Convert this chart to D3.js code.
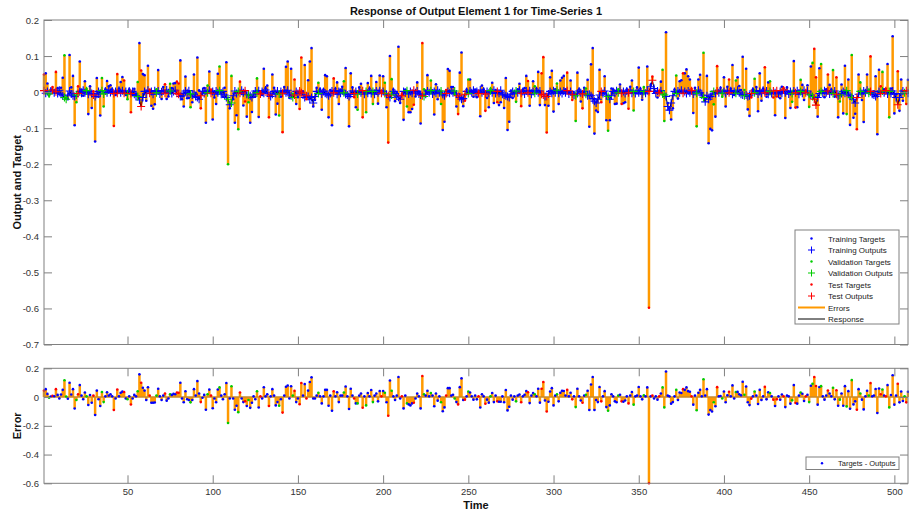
<!DOCTYPE html>
<html>
<head>
<meta charset="utf-8">
<script src="https://cdn.jsdelivr.net/npm/d3@7"></script>
<style>
  body { margin: 0; background: #fff; }
  text { font-family: "Liberation Sans", Arial, Helvetica, sans-serif; }
</style>
</head>
<body>
<div id="chart"></div>
<script>

// error (targets - outputs) for time steps 1..508
var errs = [
  0.045, 0.055, 0.022, -0.005, 0.004, 0.008, 0.006, 0.055, 0.015, -0.01, 0.018, 0.05, 0.117, 0.004, -0.012, 0.1, 0.018, 0.055, -0.08, -0.02,
  0.02, 0.083, 0.01, -0.015, 0.032, 0.005, -0.055, 0.014, -0.04, 0.01, -0.125, 0.045, -0.015, -0.062, 0.035, -0.035, 0.005, 0.033, 0.01, 0.02,
  0.005, -0.09, -0.01, 0.053, 0.005, 0.03, 0.038, 0.035, -0.01, -0.015, 0.005, -0.052, -0.01, 0.015, 0.005, 0.04, 0.158, 0.1, 0.065, 0.045,
  -0.02, 0.068, 0.01, -0.04, -0.04, -0.038, 0.01, 0.058, 0.005, -0.02, 0.01, 0.025, -0.025, -0.01, 0.02, 0.015, 0.022, 0.02, 0.032, 0.03,
  0.1, -0.01, -0.036, 0.04, -0.015, -0.02, -0.037, -0.02, 0.055, 0.01, 0.111, 0.025, -0.035, -0.005, 0.015, -0.088, 0.02, 0.052, 0.01, -0.078,
  -0.01, -0.036, 0.053, 0.067, 0.01, -0.015, 0.02, 0.098, -0.18, -0.01, 0.075, -0.01, -0.088, -0.06, -0.105, 0.032, -0.01, -0.035, -0.03, -0.062,
  -0.02, -0.075, -0.04, 0.005, -0.015, 0.04, -0.073, 0.005, -0.01, 0.068, 0.005, 0.02, -0.062, 0.005, 0.055, 0.01, -0.058, -0.035, -0.06, -0.015,
  -0.108, 0.01, 0.072, 0.08, -0.01, 0.075, 0.01, 0.043, -0.035, -0.01, -0.05, 0.098, 0.01, 0.09, -0.01, 0.045, 0.105, 0.137, -0.01, -0.01,
  0.01, 0.03, 0.005, -0.044, 0.005, 0.05, 0.05, -0.06, 0.01, -0.095, 0.04, 0.005, 0.033, -0.035, 0.01, 0.01, 0.032, 0.073, 0.005, -0.083,
  0.058, 0.01, -0.01, -0.044, -0.044, 0.01, 0.025, -0.074, 0.005, -0.058, 0.028, 0.005, 0.049, -0.035, 0.01, 0.025, -0.03, 0.042, 0.005, 0.042,
  0.03, -0.036, -0.13, 0.115, 0.044, 0.005, -0.021, 0.01, 0.14, -0.01, 0.005, -0.079, 0.01, -0.044, -0.051, -0.058, -0.044, -0.04, -0.01, 0.024,
  0.005, -0.079, 0.146, 0.02, 0.01, 0.044, 0.005, 0.028, 0.01, -0.064, 0.025, -0.025, 0.005, -0.036, -0.099, -0.072, 0.01, 0.062, 0.062, 0.01,
  0.016, -0.01, -0.035, -0.051, 0.069, 0.13, -0.021, -0.018, 0.005, 0.039, 0.032, 0.005, -0.018, 0.01, -0.016, 0.005, -0.073, 0.02, 0.005, -0.047,
  -0.018, -0.039, 0.005, 0.028, -0.035, 0.01, -0.03, -0.033, -0.033, 0.005, -0.036, 0.049, -0.093, -0.067, 0.01, -0.018, 0.005, -0.03, 0.01, 0.018,
  -0.036, 0.005, 0.016, 0.042, 0.033, -0.042, 0.01, 0.028, 0.019, 0.005, 0.058, -0.039, 0.058, 0.105, -0.024, -0.1, -0.033, 0.039, 0.062, -0.058,
  0.01, 0.019, -0.03, 0.03, 0.044, 0.042, 0.01, 0.05, 0.005, 0.03, -0.016, 0.005, -0.07, 0.058, 0.005, -0.024, -0.04, 0.01, 0.016, 0.044,
  -0.09, 0.087, 0.14, -0.09, -0.021, -0.035, 0.07, -0.03, 0.005, 0.041, -0.07, -0.095, -0.058, 0.02, 0.005, -0.03, -0.036, 0.01, 0.016, -0.03,
  -0.033, -0.024, 0.005, -0.044, 0.01, 0.035, -0.053, 0.005, 0.01, 0.07, 0.005, -0.016, 0.012, 0.005, 0.067, -0.6, 0.005, 0.01, -0.01, 0.005,
  -0.018, 0.005, 0.025, 0.067, -0.072, 0.178, 0.01, 0.005, -0.046, -0.035, 0.005, 0.05, -0.021, 0.032, 0.028, 0.055, 0.05, 0.067, 0.041, 0.037,
  0.005, -0.053, 0.01, -0.092, 0.03, 0.05, 0.005, 0.124, 0.01, 0.055, -0.122, -0.09, -0.1, -0.036, -0.064, 0.069, 0.005, 0.007, -0.01, 0.039,
  -0.036, 0.012, 0.037, 0.005, 0.081, -0.01, 0.035, 0.036, 0.019, 0.012, 0.106, 0.016, 0.073, -0.036, -0.056, -0.011, 0.005, 0.039, 0.01, -0.048,
  0.05, -0.021, 0.005, 0.071, -0.016, 0.033, 0.028, 0.005, -0.018, -0.062, -0.016, 0.005, -0.019, 0.018, 0.005, -0.07, 0.01, 0.005, -0.046, -0.023,
  0.083, -0.041, -0.046, 0.01, 0.032, 0.023, -0.027, 0.005, 0.016, -0.035, 0.079, 0.093, 0.14, 0.077, -0.053, 0.07, 0.076, 0.005, -0.018, 0.01,
  0.046, 0.025, 0.005, 0.065, -0.016, 0.047, -0.06, -0.018, 0.025, -0.061, 0.076, -0.065, 0.041, -0.081, 0.118, -0.051, -0.03, -0.088, 0.055, 0.025,
  -0.018, -0.086, 0.005, 0.044, 0.01, 0.097, 0.005, 0.01, 0.056, -0.111, 0.06, 0.02, 0.053, 0.01, 0.005, 0.083, -0.072, 0.014, 0.152, -0.053,
  0.01, 0.093, -0.037, 0.039, -0.027, 0.005, -0.037, 0.037
];

// network outputs (the response line)
var outs = [
  0.004, -0.003, 0.002, -0.005, 0.003, 0.006, -0.002, 0.001, -0.004, 0.005, -0.006, -0.01, -0.015, -0.02, -0.008, 0.003, -0.005, -0.01, -0.012, -0.008,
  -0.004, 0.002, -0.003, 0.005, -0.002, 0.004, -0.006, 0.002, -0.004, -0.008, -0.012, -0.006, 0.002, -0.003, 0.004, -0.005, 0.003, -0.002, 0.006, -0.001,
  0.003, -0.004, 0.002, -0.003, 0.005, -0.002, 0.004, -0.003, 0.002, -0.005, 0.003, -0.004, 0.002, -0.006, -0.01, -0.012, -0.022, -0.04, -0.015, 0.002,
  -0.004, 0.005, -0.003, 0.002, -0.006, 0.004, -0.002, 0.003, -0.005, 0.001, 0.004, -0.003, 0.006, -0.002, 0.003, -0.004, 0.002, 0.005, -0.003, -0.006,
  -0.012, -0.01, -0.004, 0.003, -0.002, 0.004, -0.005, -0.008, -0.006, -0.012, -0.015, -0.02, -0.01, 0.002, -0.004, 0.003, -0.002, 0.005, -0.003, 0.002,
  -0.005, 0.003, -0.002, 0.004, -0.006, 0.002, -0.008, -0.015, -0.02, -0.035, -0.03, -0.01, 0.003, -0.004, 0.002, -0.003, 0.005, -0.002, 0.004, -0.006,
  -0.008, -0.01, -0.015, -0.006, 0.003, -0.002, 0.004, -0.005, 0.002, -0.003, 0.006, -0.002, -0.008, -0.012, -0.006, 0.002, -0.004, 0.003, -0.005, 0.002,
  -0.003, 0.004, -0.002, 0.005, -0.006, -0.01, -0.015, -0.008, 0.002, -0.004, 0.003, -0.002, -0.008, -0.015, -0.01, -0.012, -0.02, -0.015, -0.03, -0.012,
  0.002, -0.004, 0.003, -0.005, 0.002, -0.003, -0.006, -0.01, -0.004, 0.003, -0.002, 0.004, -0.006, 0.002, -0.003, 0.005, -0.002, -0.006, -0.008, -0.012,
  -0.006, 0.003, -0.004, 0.002, -0.005, 0.003, -0.002, 0.004, -0.006, 0.002, -0.003, 0.005, -0.004, 0.002, -0.006, 0.003, -0.002, 0.004, -0.003, 0.002,
  -0.004, -0.006, -0.01, -0.015, -0.008, 0.002, -0.004, -0.01, -0.014, -0.02, -0.01, 0.002, -0.003, 0.004, -0.005, 0.002, -0.003, 0.005, -0.002, 0.003,
  -0.005, -0.008, -0.01, -0.012, -0.006, 0.003, -0.002, 0.004, -0.005, 0.002, -0.003, 0.005, -0.002, 0.003, -0.006, -0.01, -0.004, 0.002, -0.003, 0.004,
  -0.002, 0.003, -0.005, -0.01, -0.015, -0.02, -0.018, -0.006, 0.002, -0.004, 0.003, -0.002, 0.005, -0.003, 0.002, -0.004, 0.006, -0.002, 0.003, -0.005,
  0.002, -0.003, 0.004, -0.002, 0.005, -0.004, 0.002, -0.003, 0.005, -0.006, -0.008, -0.01, -0.012, -0.015, -0.006, 0.002, -0.004, 0.003, -0.002, 0.005,
  -0.003, 0.002, -0.005, 0.003, -0.002, 0.004, -0.006, 0.002, -0.003, 0.004, -0.002, 0.003, -0.006, -0.008, -0.012, -0.012, -0.005, 0.002, -0.003, 0.004,
  -0.002, 0.005, -0.003, 0.002, -0.004, 0.003, -0.002, 0.004, -0.005, 0.002, -0.006, -0.008, -0.01, -0.004, 0.003, -0.002, -0.005, 0.002, -0.006, -0.01,
  -0.006, -0.01, -0.018, -0.025, -0.03, -0.02, -0.008, 0.002, -0.004, 0.003, -0.008, -0.012, -0.02, -0.01, 0.002, -0.003, 0.004, -0.002, 0.005, -0.003,
  0.002, -0.004, 0.003, -0.002, 0.005, -0.003, 0.002, -0.004, 0.003, -0.002, 0.004, -0.005, 0.002, -0.003, 0.004, 0.002, 0.015, 0.033, 0.01, -0.004,
  0.003, -0.002, 0.004, -0.005, -0.008, -0.012, -0.04, -0.05, -0.03, -0.01, 0.002, -0.004, 0.003, -0.002, 0.005, -0.003, 0.002, -0.004, 0.003, -0.002,
  0.004, -0.005, 0.002, -0.003, 0.005, -0.002, -0.008, -0.015, -0.027, -0.01, -0.02, -0.012, -0.006, 0.002, -0.004, 0.003, -0.002, 0.005, -0.003, 0.002,
  -0.004, 0.003, -0.002, 0.004, -0.006, 0.002, -0.003, 0.005, -0.002, -0.006, -0.008, -0.01, -0.008, -0.012, -0.01, -0.004, 0.003, -0.002, 0.004, -0.005,
  0.002, -0.003, 0.005, -0.002, 0.003, -0.006, 0.002, -0.004, 0.003, -0.002, 0.004, -0.005, 0.002, -0.003, 0.006, -0.002, 0.003, -0.005, 0.002, -0.004,
  0.003, -0.002, 0.004, -0.006, 0.002, -0.003, 0.005, -0.002, 0.003, -0.006, -0.008, -0.012, -0.02, -0.036, -0.015, -0.004, 0.002, -0.003, 0.004, -0.002,
  0.003, -0.005, 0.002, -0.004, 0.003, -0.006, -0.01, -0.008, -0.004, 0.002, -0.003, 0.004, -0.006, -0.01, -0.015, -0.02, -0.03, -0.015, -0.006, 0.002,
  -0.004, 0.003, -0.002, 0.005, -0.003, 0.002, -0.006, -0.008, -0.012, -0.006, 0.002, -0.004, 0.003, -0.002, 0.004, -0.005, 0.002, -0.004, 0.003, -0.006,
  -0.015, -0.035, -0.015, -0.004, 0.003, -0.002, 0.004, -0.003
];

// time steps used for validation and test (everything else is training)
var valSteps = [4, 13, 14, 20, 26, 35, 36, 50, 56, 67, 75, 87, 97, 104, 109, 111, 115, 121, 126, 139, 147, 162, 177, 185, 190, 194, 201, 205,
  214, 224, 228, 234, 242, 250, 263, 278, 289, 302, 313, 319, 332, 338, 347, 353, 364, 365, 372, 384, 388, 394, 399, 407, 412, 418,
  427, 440, 445, 450, 452, 457, 464, 468, 472, 475, 480, 485, 493, 497, 506];
var testSteps = [1, 6, 8, 21, 30, 42, 44, 48, 52, 58, 63, 72, 79, 80, 93, 99, 116, 119, 128, 133, 141, 148, 151, 152, 155, 171, 183, 188,
  199, 203, 211, 218, 223, 237, 244, 248, 256, 260, 267, 281, 285, 293, 294, 296, 308, 311, 317, 328, 340, 344, 356, 358, 362, 376,
  381, 396, 403, 416, 424, 429, 431, 435, 442, 448, 453, 454, 461, 466, 478, 486, 492, 495, 502, 507];

var xTicks = [50, 100, 150, 200, 250, 300, 350, 400, 450, 500];
var yTicksTop = [-0.7, -0.6, -0.5, -0.4, -0.3, -0.2, -0.1, 0, 0.1, 0.2];
var yTicksBottom = [-0.6, -0.4, -0.2, 0, 0.2];

var setNames = ['Training', 'Validation', 'Test'];
var setColors = { Training: '#0000ff', Validation: '#00cc00', Test: '#ff0000' };
var orange = '#ff9900';

var data = errs.map(function(e, i){
    var t = i + 1;
    var set = testSteps.indexOf(t) >= 0 ? 'Test' : (valSteps.indexOf(t) >= 0 ? 'Validation' : 'Training');
    return { t: t, err: e, out: outs[i], target: outs[i] + e, set: set };
});

var width = 909, height = 513;
var left = 44, right = 908;

var svg = d3.select('#chart').append('svg')
    .attr('width', width)
    .attr('height', height);

var x = d3.scaleLinear().domain([1, data.length]).range([left, right]);
var yTop = d3.scaleLinear().domain([-0.7, 0.2]).range([344.5, 20]);
var yBot = d3.scaleLinear().domain([-0.6, 0.2]).range([483.3, 368.3]);

function fmt(d){ return String(+d.toFixed(1)); }

// frame, inward ticks on all four sides
function drawAxes(y, yTicks, showX){
    var g = svg.append('g');
    var r = y.range();
    g.append('rect')
        .attr('x', left).attr('y', r[1])
        .attr('width', right - left).attr('height', r[0] - r[1])
        .attr('fill', 'none').attr('stroke', '#808080');

    g.append('g').attr('transform', 'translate(0,' + r[0] + ')')
        .call(d3.axisBottom(x).tickValues(xTicks).tickSize(-8).tickPadding(5)
            .tickFormat(showX ? d3.format('d') : ''));
    g.append('g').attr('transform', 'translate(0,' + r[1] + ')')
        .call(d3.axisTop(x).tickValues(xTicks).tickSize(-8).tickFormat(''));
    g.append('g').attr('transform', 'translate(' + left + ',0)')
        .call(d3.axisLeft(y).tickValues(yTicks).tickSize(-8).tickPadding(5).tickFormat(fmt));
    g.append('g').attr('transform', 'translate(' + right + ',0)')
        .call(d3.axisRight(y).tickValues(yTicks).tickSize(-8).tickFormat(''));

    g.selectAll('.domain').remove();
    g.selectAll('.tick line').attr('stroke', '#808080');
    g.selectAll('.tick text').attr('fill', '#333').style('font-size', '9.5px')
        .style('font-family', '"Liberation Sans", Arial, sans-serif');
    return g;
}

// ---------- top plot: targets, outputs, errors, response ----------
var topG = svg.append('g');

topG.selectAll('line.err')
    .data(data)
    .enter().append('line')
    .attr('x1', function(d){ return x(d.t); })
    .attr('x2', function(d){ return x(d.t); })
    .attr('y1', function(d){ return yTop(d.out); })
    .attr('y2', function(d){ return yTop(d.target); })
    .attr('stroke', orange)
    .attr('stroke-width', 2.5);

topG.append('path')
    .datum(data)
    .attr('fill', 'none')
    .attr('stroke', '#000')
    .attr('stroke-width', 1)
    .attr('d', d3.line().x(function(d){ return x(d.t); }).y(function(d){ return yTop(d.out); }));

setNames.forEach(function(s){
    var sub = data.filter(function(d){ return d.set == s; });
    topG.selectAll('circle.s' + s)
        .data(sub)
        .enter().append('circle')
        .attr('cx', function(d){ return x(d.t); })
        .attr('cy', function(d){ return yTop(d.target); })
        .attr('r', 1.3)
        .attr('fill', setColors[s]);
    topG.selectAll('path.s' + s)
        .data(sub)
        .enter().append('path')
        .attr('d', function(d){
            var px = x(d.t), py = yTop(d.out);
            return 'M' + (px - 4) + ',' + py + 'H' + (px + 4) + 'M' + px + ',' + (py - 4) + 'V' + (py + 4);
        })
        .attr('stroke', setColors[s])
        .attr('stroke-width', 1.1);
});

drawAxes(yTop, yTicksTop, false);

// ---------- bottom plot: error stems ----------
var botG = svg.append('g');

botG.selectAll('line.stem')
    .data(data)
    .enter().append('line')
    .attr('x1', function(d){ return x(d.t); })
    .attr('x2', function(d){ return x(d.t); })
    .attr('y1', yBot(0))
    .attr('y2', function(d){ return yBot(d.err); })
    .attr('stroke', orange)
    .attr('stroke-width', 2.5);

botG.append('line')
    .attr('x1', left).attr('x2', right)
    .attr('y1', yBot(0)).attr('y2', yBot(0))
    .attr('stroke', '#c98a2c').attr('stroke-width', 1.5);

botG.selectAll('circle.errdot')
    .data(data)
    .enter().append('circle')
    .attr('cx', function(d){ return x(d.t); })
    .attr('cy', function(d){ return yBot(d.err); })
    .attr('r', 1.3)
    .attr('fill', function(d){ return setColors[d.set]; });

drawAxes(yBot, yTicksBottom, true);

// ---------- titles and labels ----------
svg.append('text')
    .attr('x', (left + right) / 2).attr('y', 15)
    .attr('text-anchor', 'middle')
    .style('font-size', '11px').style('font-weight', 'bold').attr('fill', '#111')
    .text('Response of Output Element 1 for Time-Series 1');

svg.append('text')
    .attr('transform', 'translate(21,' + ((yTop.range()[0] + yTop.range()[1]) / 2) + ') rotate(-90)')
    .attr('text-anchor', 'middle')
    .style('font-size', '11px').style('font-weight', 'bold').attr('fill', '#111')
    .text('Output and Target');

svg.append('text')
    .attr('transform', 'translate(21,' + ((yBot.range()[0] + yBot.range()[1]) / 2) + ') rotate(-90)')
    .attr('text-anchor', 'middle')
    .style('font-size', '11px').style('font-weight', 'bold').attr('fill', '#111')
    .text('Error');

svg.append('text')
    .attr('x', (left + right) / 2).attr('y', 509)
    .attr('text-anchor', 'middle')
    .style('font-size', '11px').style('font-weight', 'bold').attr('fill', '#111')
    .text('Time');

// ---------- legends ----------
var legendItems = [
    { label: 'Training Targets', type: 'dot', color: setColors.Training },
    { label: 'Training Outputs', type: 'plus', color: setColors.Training },
    { label: 'Validation Targets', type: 'dot', color: setColors.Validation },
    { label: 'Validation Outputs', type: 'plus', color: setColors.Validation },
    { label: 'Test Targets', type: 'dot', color: setColors.Test },
    { label: 'Test Outputs', type: 'plus', color: setColors.Test },
    { label: 'Errors', type: 'line', color: orange },
    { label: 'Response', type: 'line', color: '#000' }
];

var leg = svg.append('g');
leg.append('rect')
    .attr('x', 795).attr('y', 230).attr('width', 104).attr('height', 94)
    .attr('fill', '#fff').attr('stroke', '#808080');

legendItems.forEach(function(it, i){
    var cy = 238.5 + i * 11.5;
    if (it.type == 'dot') {
        leg.append('circle').attr('cx', 811.5).attr('cy', cy).attr('r', 1.2).attr('fill', it.color);
    } else if (it.type == 'plus') {
        leg.append('path')
            .attr('d', 'M808,' + cy + 'H815M811.5,' + (cy - 3.5) + 'V' + (cy + 3.5))
            .attr('stroke', it.color).attr('stroke-width', 1);
    } else {
        leg.append('line').attr('x1', 798).attr('x2', 825).attr('y1', cy).attr('y2', cy)
            .attr('stroke', it.color).attr('stroke-width', it.color == orange ? 2 : 1);
    }
    leg.append('text')
        .attr('x', 828).attr('y', cy + 3)
        .style('font-size', '8px').attr('fill', '#222')
        .text(it.label);
});

var leg2 = svg.append('g');
leg2.append('rect')
    .attr('x', 806).attr('y', 457).attr('width', 93).attr('height', 12.5)
    .attr('fill', '#fff').attr('stroke', '#808080');
leg2.append('circle').attr('cx', 822).attr('cy', 463.3).attr('r', 1.2).attr('fill', setColors.Training);
leg2.append('text')
    .attr('x', 838).attr('y', 466)
    .style('font-size', '7.5px').attr('fill', '#222')
    .text('Targets - Outputs');

</script>
</body>
</html>
